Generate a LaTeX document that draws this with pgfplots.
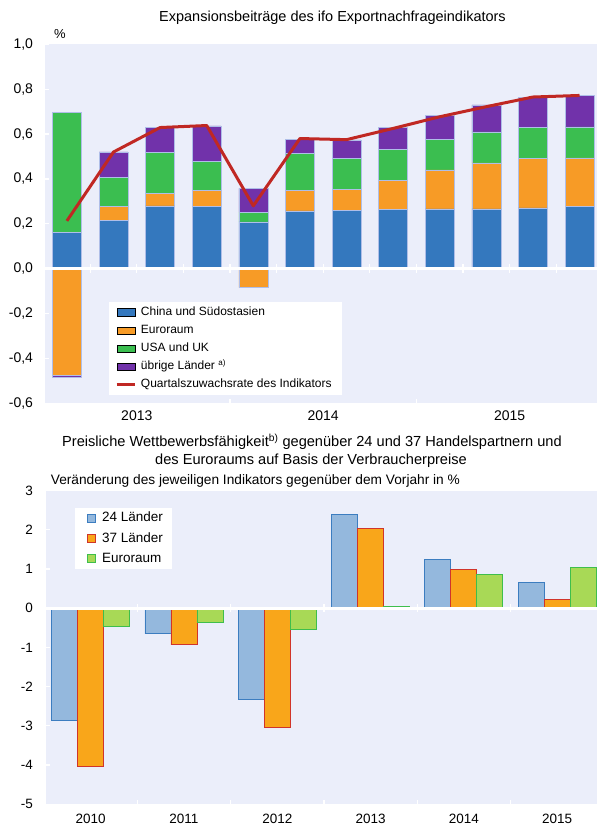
\documentclass[border=0pt]{standalone}
\usepackage{fontspec}
\setmainfont{Liberation Sans}
\usepackage{pgfplots}
\usepackage{pgfplotstable}
\pgfplotsset{compat=1.18}
\definecolor{bg}{RGB}{235,238,250}
\definecolor{baredge}{RGB}{175,190,232}
\definecolor{cblue}{RGB}{52,120,190}
\definecolor{corange}{RGB}{247,155,38}
\definecolor{cgreen}{RGB}{59,190,80}
\definecolor{cpurple}{RGB}{113,50,170}
\definecolor{cred}{RGB}{192,40,35}
\definecolor{lbfill}{RGB}{148,184,221}
\definecolor{lbedge}{RGB}{60,125,192}
\definecolor{lofill}{RGB}{249,166,26}
\definecolor{loedge}{RGB}{208,52,42}
\definecolor{lgfill}{RGB}{168,217,86}
\definecolor{lgedge}{RGB}{62,190,76}

\pgfplotstableread{
x blue orange green purple oneg pneg line
1 0.163 0.000 0.532 0.000 -0.475 -0.007 0.213
2 0.216 0.061 0.131 0.112 0 0 0.520
3 0.280 0.057 0.181 0.111 0 0 0.629
4 0.276 0.074 0.129 0.157 0 0 0.638
5 0.208 0.000 0.044 0.106 -0.084 0 0.280
6 0.258 0.092 0.164 0.063 0 0 0.580
7 0.260 0.095 0.135 0.084 0 0 0.575
8 0.265 0.130 0.135 0.100 0 0 0.625
9 0.267 0.173 0.137 0.106 0 0 0.677
10 0.267 0.205 0.138 0.120 0 0 0.722
11 0.271 0.219 0.139 0.136 0 0 0.765
12 0.276 0.218 0.138 0.139 0 0 0.772
}\topdata

\pgfplotstableread{
x l24 l37 euro
0 -2.85 -4.03 -0.47
1 -0.65 -0.93 -0.37
2 -2.32 -3.03 -0.55
3 2.40 2.03 0.05
4 1.25 0.98 0.87
5 0.66 0.23 1.05
}\botdata

\pgfplotsset{
  barleg/.style={legend image code/.code={\fill[##1] (0pt,-3.6pt) rectangle (18.3pt,3.6pt);}},
  lineleg/.style={legend image code/.code={\draw[##1] (0pt,0pt) -- (18.3pt,0pt);}},
  sqleg/.style={legend image code/.code={\path (0pt,0pt); \draw[##1, line width=0.9pt] (9pt,-4pt) rectangle (17pt,4pt);}},
  topgeom/.style={at={(45pt,423.7pt)}, anchor=south west, width=552pt, height=359pt, scale only axis,
    xmin=0.53, xmax=12.375, ymin=-0.6, ymax=1.0},
  topbar/.style={fill=#1, draw=baredge, line width=0.5pt},
}

\begin{document}
\begin{tikzpicture}
\path[use as bounding box] (0pt,0pt) rectangle (597pt,827pt);
\node[anchor=base, inner sep=0, font=\fontsize{14.5}{17}\selectfont] at (332.5pt,805.3pt) {Expansionsbeiträge des ifo Exportnachfrageindikators};
\node[anchor=base, inner sep=0, font=\fontsize{13}{15}\selectfont] at (60pt,788.5pt) {\%};

% axis A: background, ticks, negative stack
\begin{axis}[topgeom,
  axis background/.style={fill=bg},
  axis line style={draw=none},
  ybar stacked, bar width=0.62,
  tick pos=left, tick align=inside,
  tick style={white, line width=1.2pt},
  major tick length=4pt,
  xtick={4.5,8.5}, xticklabels={},
  extra x ticks={2.5,6.5,10.5}, extra x tick labels={2013,2014,2015},
  extra x tick style={major tick length=0pt},
  ytick={-0.6,-0.4,-0.2,0,0.2,0.4,0.6,0.8,1.0},
  yticklabel style={/pgf/number format/.cd, fixed, fixed zerofill, precision=1, use comma},
  /pgf/number format/assume math mode=true,
  tick label style={font=\fontsize{14}{16}\selectfont, black},
  yticklabel shift=8.5pt, xticklabel shift=4pt,
]
\addplot[topbar=corange] table[x=x, y=oneg] {\topdata};
\addplot[topbar=cpurple] table[x=x, y=pneg] {\topdata};
\end{axis}

% axis B: positive stack
\begin{axis}[topgeom, hide axis, ybar stacked, bar width=0.62]
\addplot[topbar=cblue] table[x=x, y=blue] {\topdata};
\addplot[topbar=corange] table[x=x, y=orange] {\topdata};
\addplot[topbar=cgreen] table[x=x, y=green] {\topdata};
\addplot[topbar=cpurple] table[x=x, y=purple] {\topdata};
\end{axis}

% axis C: zero line, line, legend
\begin{axis}[topgeom, hide axis,
  legend style={at={(0.116,0.2833)}, anchor=north west, draw=none, fill=white,
    inner xsep=6pt, inner ysep=1.4pt, row sep=0pt,
    font=\fontsize{12}{14}\selectfont,
    nodes={inner xsep=4.4pt, inner ysep=3.35pt, text height=8.8pt, text depth=2.6pt}},
  legend cell align=left,
]
\addplot[white, line width=3pt, forget plot] coordinates {(0.53,0) (12.375,0)};
\addplot[white, line width=1.2pt, ycomb, forget plot] coordinates {(1.5,0.02) (2.5,0.02) (3.5,0.02) (4.5,0.02) (5.5,0.02) (6.5,0.02) (7.5,0.02) (8.5,0.02) (9.5,0.02) (10.5,0.02) (11.5,0.02)};
\addplot[white, line width=1.2pt, ycomb, forget plot] coordinates {(1.5,-0.02) (2.5,-0.02) (3.5,-0.02) (4.5,-0.02) (5.5,-0.02) (6.5,-0.02) (7.5,-0.02) (8.5,-0.02) (9.5,-0.02) (10.5,-0.02) (11.5,-0.02)};
\addlegendimage{barleg, fill=cblue}
\addlegendentry{China und Südostasien}
\addlegendimage{barleg, fill=corange}
\addlegendentry{Euroraum}
\addlegendimage{barleg, fill=cgreen}
\addlegendentry{USA und UK}
\addlegendimage{barleg, fill=cpurple}
\addlegendentry{übrige Länder \textsuperscript{a)}}
\addplot[cred, line width=3pt, line join=round, lineleg] table[x=x, y=line] {\topdata};
\addlegendentry{Quartalszuwachsrate des Indikators\hspace{8pt}}
\end{axis}

% bottom titles
\node[anchor=base, inner sep=0, font=\fontsize{14.6}{17}\selectfont] at (312pt,380.3pt) {Preisliche Wettbewerbsfähigkeit\textsuperscript{b)} gegenüber 24 und 37 Handelspartnern und};
\node[anchor=base, inner sep=0, font=\fontsize{14.6}{17}\selectfont] at (311pt,362pt) {des Euroraums auf Basis der Verbraucherpreise};
\node[anchor=base west, inner sep=0, font=\fontsize{13.7}{16}\selectfont] at (50.7pt,342.7pt) {Veränderung des jeweiligen Indikators gegenüber dem Vorjahr in \%};

\begin{axis}[
  at={(46pt,22.7pt)}, anchor=south west, width=551pt, height=313.6pt, scale only axis,
  xmin=-0.479, xmax=5.427, ymin=-5, ymax=3,
  axis background/.style={fill=bg}, axis line style={draw=none},
  tick pos=left, tick align=inside,
  tick style={white, line width=1.2pt}, major tick length=4pt,
  xtick={0.5,1.5,2.5,3.5,4.5}, xticklabels={},
  extra x ticks={0,1,2,3,4,5}, extra x tick labels={2010,2011,2012,2013,2014,2015},
  extra x tick style={major tick length=0pt},
  ytick={-5,-4,-3,-2,-1,0,1,2,3},
  /pgf/number format/assume math mode=true,
  tick label style={font=\fontsize{13.5}{16}\selectfont, black},
  yticklabel shift=9.5pt, xticklabel shift=6pt,
  legend style={at={(0.0526,0.945)}, anchor=north west, draw=none, fill=white,
    inner xsep=2.6pt, inner ysep=0pt, row sep=0pt,
    font=\fontsize{13.5}{16}\selectfont,
    nodes={inner xsep=6.4pt, inner ysep=3.8pt, text height=9.9pt, text depth=2.8pt}},
  legend cell align=left,
]
\addplot[ybar, bar width=0.2787, bar shift=-0.2787, fill=lbfill, draw=lbedge, line width=0.9pt, sqleg] table[x=x, y=l24] {\botdata};
\addlegendentry{24 Länder}
\addplot[ybar, bar width=0.2787, bar shift=0, fill=lofill, draw=loedge, line width=0.9pt, sqleg] table[x=x, y=l37] {\botdata};
\addlegendentry{37 Länder}
\addplot[ybar, bar width=0.2787, bar shift=0.2787, fill=lgfill, draw=lgedge, line width=0.9pt, sqleg] table[x=x, y=euro] {\botdata};
\addlegendentry{Euroraum}
\addplot[white, line width=3pt, forget plot] coordinates {(-0.479,0) (5.427,0)};
\addplot[white, line width=1.2pt, ycomb, forget plot] coordinates {(0.5,0.1) (1.5,0.1) (2.5,0.1) (3.5,0.1) (4.5,0.1)};
\addplot[white, line width=1.2pt, ycomb, forget plot] coordinates {(0.5,-0.1) (1.5,-0.1) (2.5,-0.1) (3.5,-0.1) (4.5,-0.1)};
\end{axis}
\end{tikzpicture}
\end{document}
